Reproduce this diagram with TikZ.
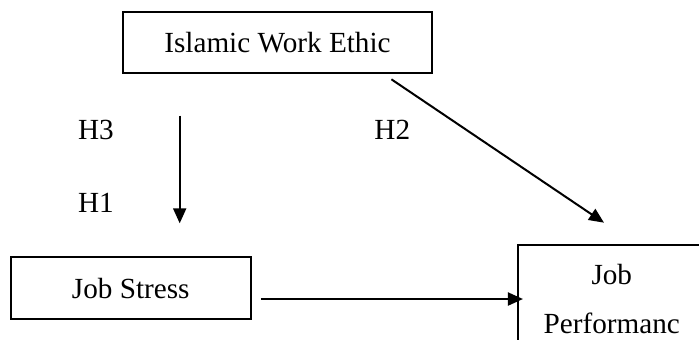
\documentclass[tikz,border=0pt]{standalone}
\usepackage{fontspec}
\setmainfont{Liberation Serif}
\usetikzlibrary{arrows.meta}
\begin{document}
\begin{tikzpicture}[x=0.5pt, y=-0.5pt, line cap=butt, line join=miter,
  >={Triangle[length=7.5pt,width=6.5pt]},
  box/.style={draw, line width=0.85pt, inner sep=0pt, font=\fontsize{14.6}{24.5}\selectfont},
  link/.style={->, line width=1pt},
  hyp/.style={inner sep=0pt, font=\fontsize{14.6}{17}\selectfont}]

  \useasboundingbox (0,0) rectangle (699,339);
  \clip (0,0) rectangle (699,339);

  \node[box, minimum width=154.5pt, minimum height=30.5pt] (iwe) at (277.5,42.5) {Islamic Work Ethic};
  \node[box, minimum width=120pt, minimum height=31pt] (stress) at (130.75,288.25) {Job Stress};
  \node[box, align=center, minimum width=93.5pt, minimum height=54pt] (perf) at (611.8,299) {Job\\Performanc};

  \node[hyp] (h3) at (95.9,130) {H3};
  \node[hyp] (h2) at (392.3,130) {H2};
  \node[hyp] (h1) at (95.9,203) {H1};

  \coordinate (medtop) at (179.7,115.7);
  \coordinate (medtip) at (179.7,223.3);
  \coordinate (dirtop) at (391.4,79.3);
  \coordinate (dirtip) at (604,222.7);

  \draw[link] (medtop) -- (medtip);
  \draw[link] (dirtop) -- (dirtip);
  \draw[link, shorten <=4.6pt, shorten >=-2.75pt] (stress.east |- perf.west) -- (perf.west);

\end{tikzpicture}
\end{document}
